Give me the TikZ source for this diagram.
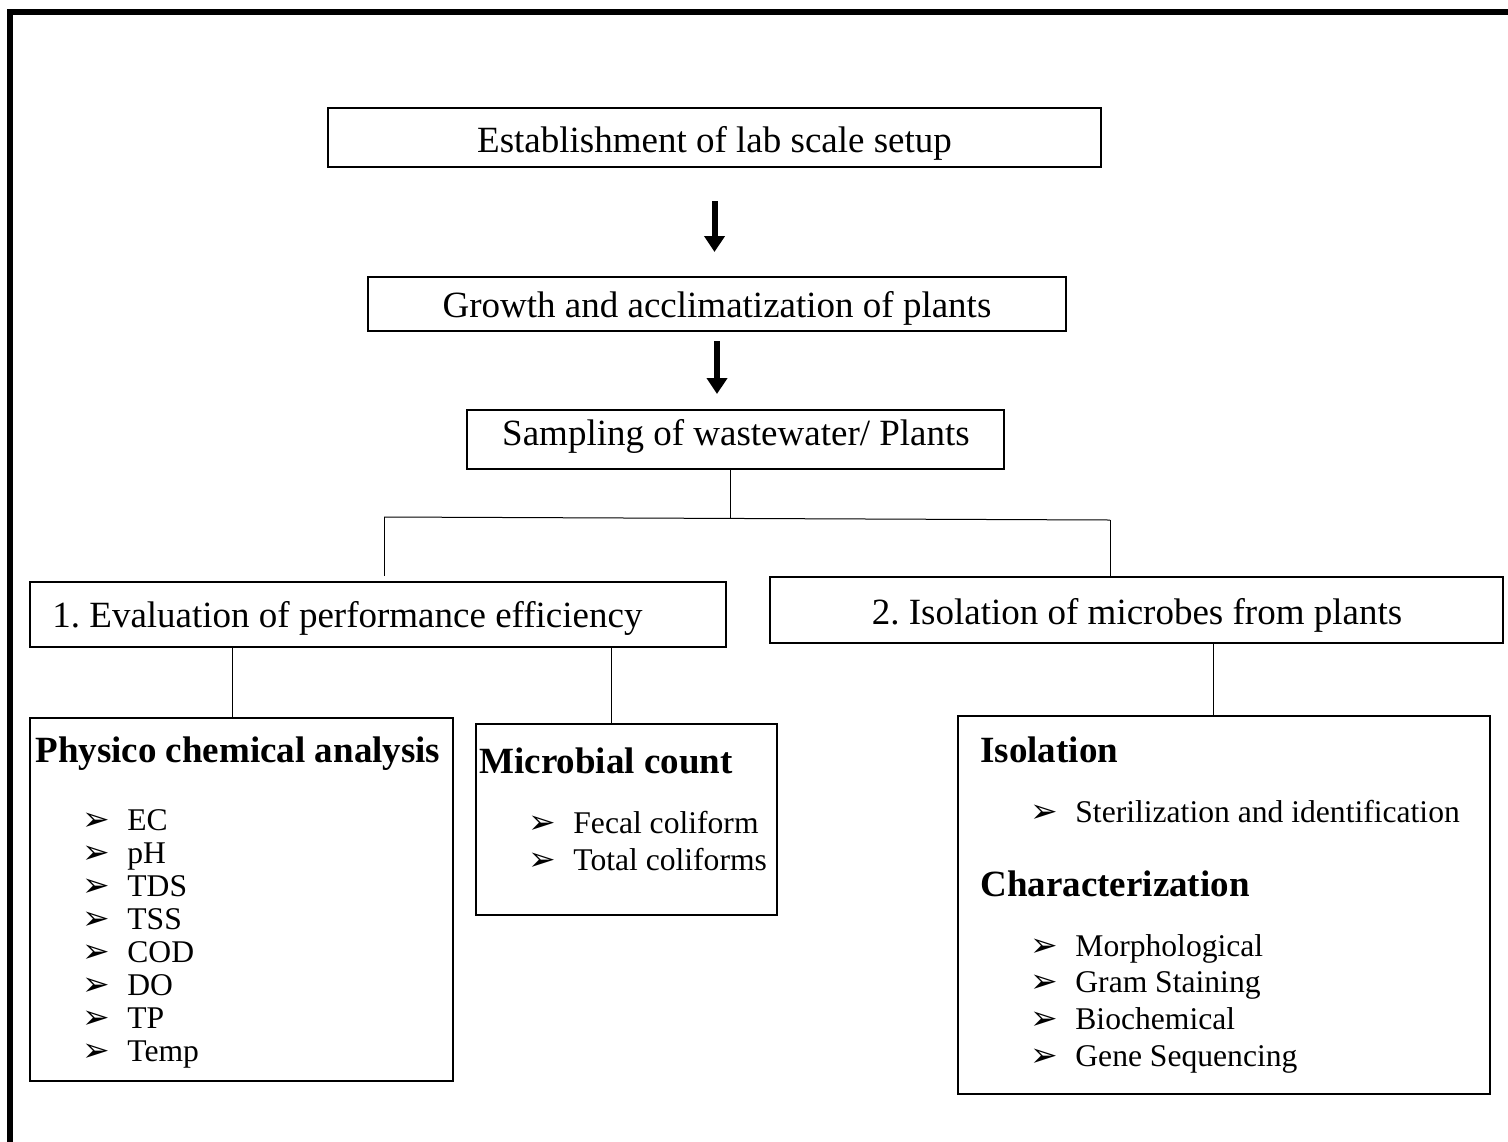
\documentclass[tikz,border=0pt]{standalone}
\usepackage{fontspec}
\setmainfont{Liberation Serif}
\newfontfamily\dingfont{DejaVu Sans}
\usetikzlibrary{fit}
\usetikzlibrary{arrows.meta}
\frenchspacing

% bullet of the lists
\newcommand{\arrowbul}{\makebox[22.5pt][l]{\dingfont\fontsize{16.5pt}{16.5pt}\selectfont ➢}}

\tikzset{
  box/.style={draw,line width=1pt,inner sep=0pt},
  link/.style={line width=0.5pt},
  bigarrow/.style={line width=3pt,-{Triangle[length=8pt,width=10pt]}},
  label/.style={anchor=base,inner sep=0pt},
  item/.style={anchor=base west,inner sep=0pt,font=\fontsize{15.8pt}{19pt}\selectfont},
  head/.style={anchor=base west,inner sep=0pt,font=\fontsize{18.5pt}{22pt}\selectfont\bfseries},
}

\begin{document}
\begin{tikzpicture}[x=0.5pt,y=-0.5pt,font=\fontsize{18.5pt}{22pt}\selectfont]
    \useasboundingbox (0,0) rectangle (1508,1141);
    \clip (0,0) rectangle (1508,1141);
    \draw[line width=3pt] (9.5,11.5) rectangle (1540,1170);

    % top of the chart
    \node[box,fit={(328,108) (1101,167)}] (setup) {};
    \node[label] (setuptext) at (714.5,152) {Establishment of lab scale setup};
    \node[box,fit={(368,277) (1066,331)}] (growth) {};
    \node[label] (growthtext) at (717,317) {Growth and acclimatization of plants};
    \node[box,fit={(467,410) (1004,469)}] (sampling) {};
    \node[label] (samplingtext) at (736,445) {Sampling of wastewater/ Plants};

    \draw[bigarrow,shorten <=16.5pt,shorten >=12pt] (setup.south) -- (setup.south |- growth.north);
    \draw[bigarrow,shorten <=4.5pt,shorten >=7.5pt] (growth.south) -- (growth.south |- sampling.north);

    % the two branches
    \node[box,fit={(30,582) (726,647)}] (evaluation) {};
    \node[anchor=base west,inner sep=0pt] (evaltext) at (52,627) {1. Evaluation of performance efficiency};
    \node[box,fit={(770,577) (1503,643)}] (isolation) {};
    \node[label] (isolationtext) at (1137,624) {2. Isolation of microbes from plants};

    \coordinate (split) at (730,518);
    \coordinate (splitL) at (384,517);
    \coordinate (splitR) at (1110,520);
    \draw[link] (sampling.south -| split) -- (split);
    \draw[link] (splitL) -- (splitR);
    \draw[link] (splitL) -- ([yshift=2.5pt]splitL |- evaluation.north);
    \draw[link] (splitR) -- (splitR |- isolation.north);

    % boxes with the lists
    \node[box,fit={(30,718) (453,1081)}] (physico) {};
    \node[box,fit={(476,724) (777,915)}] (microbial) {};
    \node[box,fit={(958,716) (1490,1094)}] (charact) {};

    \coordinate (dropA) at (232,0);
    \coordinate (dropB) at (611,0);
    \coordinate (dropC) at (1213,0);
    \draw[link] (dropA |- evaluation.south) -- (dropA |- physico.north);
    \draw[link] (dropB |- evaluation.south) -- (dropB |- microbial.north);
    \draw[link] (dropC |- isolation.south) -- (dropC |- charact.north);

    \node[head] (physicohead) at (35,762) {Physico chemical analysis};
    \foreach \t [count=\i] in {EC,pH,TDS,TSS,COD,DO,TP,Temp}
        \node[item] (pc\i) at (82,{797+33*\i}) {\arrowbul\t};

    \node[head] (microbialhead) at (479,773) {Microbial count};
    \node[item] (mc1) at (528,833) {\arrowbul Fecal coliform};
    \node[item] (mc2) at (528,870) {\arrowbul Total coliforms};

    \node[head] (isolhead) at (980,762) {Isolation};
    \node[item] (is1) at (1030,822) {\arrowbul Sterilization and identification};
    \node[head] (charhead) at (980,896) {Characterization};
    \foreach \t [count=\i] in {Morphological,Gram Staining,Biochemical,Gene Sequencing}
        \node[item] (ch\i) at (1030,{919.3+36.7*\i}) {\arrowbul\t};
\end{tikzpicture}
\end{document}
